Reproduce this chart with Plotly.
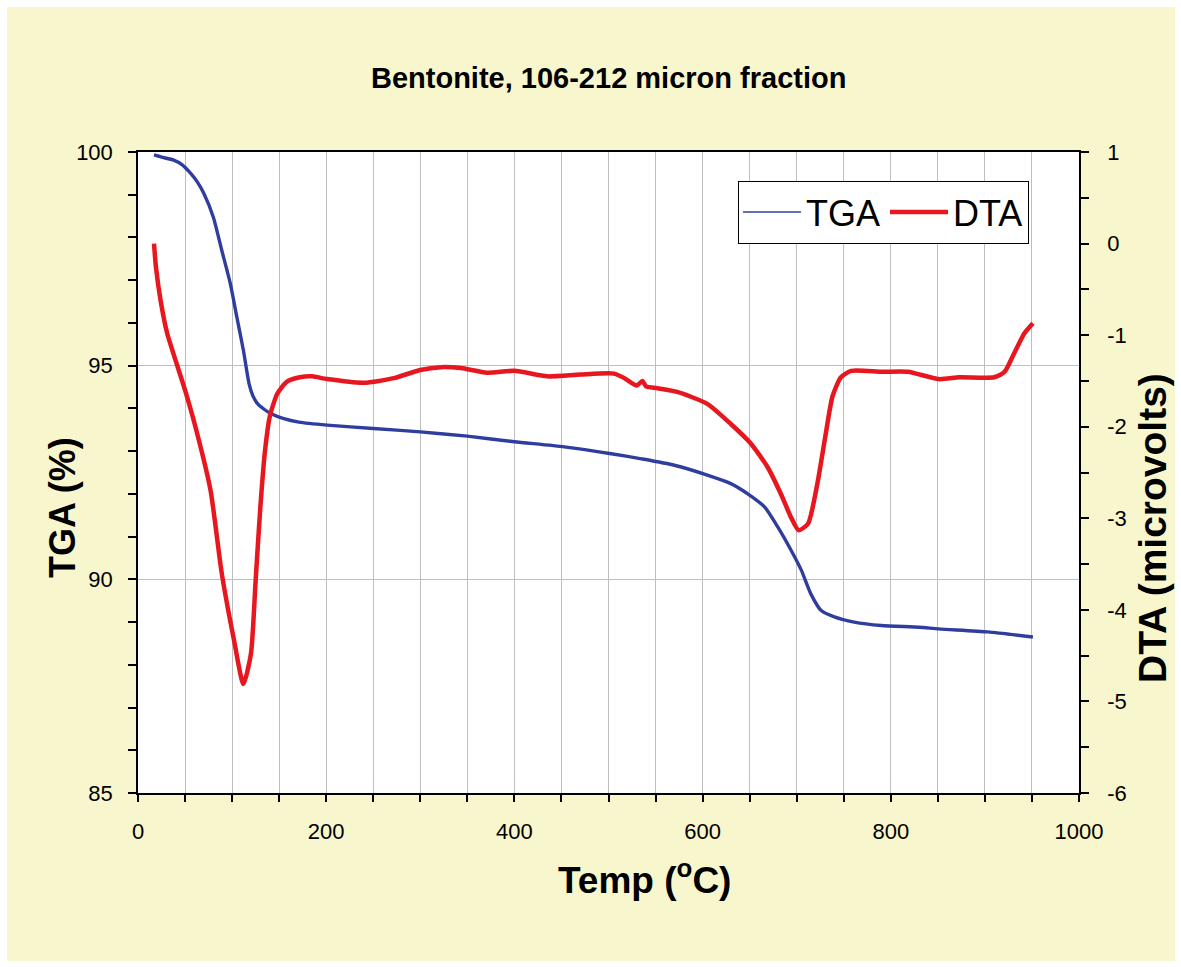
import plotly.graph_objects as go

# Thermogravimetric (TGA, %) readings against temperature (deg C)
tga_temp = [17, 25, 38, 47, 56, 63, 70, 80, 89, 98, 105, 112, 118, 122, 127, 134, 141,
            155, 171, 201, 250, 300, 350, 400, 453, 503, 535, 570, 605, 630, 648, 666,
            680, 694, 705, 715, 726, 740, 761, 790, 830, 851, 903, 951]
tga_pct = [99.93, 99.88, 99.81, 99.70, 99.50, 99.30, 99.03, 98.48, 97.70, 96.93, 96.14,
           95.36, 94.58, 94.30, 94.11, 93.98, 93.88, 93.76, 93.68, 93.61, 93.53, 93.45,
           93.35, 93.22, 93.10, 92.94, 92.82, 92.67, 92.44, 92.24, 92.00, 91.69, 91.22,
           90.68, 90.21, 89.66, 89.27, 89.12, 89.00, 88.92, 88.88, 88.84, 88.77, 88.65]

# Differential thermal analysis (DTA, microvolts) against temperature (deg C)
dta_temp = [17, 19, 24, 31, 41, 50, 61, 77, 89, 102, 112, 120, 125, 130, 135, 140, 148,
            158, 172, 185, 201, 240, 272, 300, 322, 343, 371, 400, 435, 470, 506, 517,
            530, 536, 540, 552, 573, 605, 630, 651, 669, 683, 694, 702, 712, 722, 731,
            738, 747, 758, 790, 818, 851, 873, 910, 921, 931, 942, 951]
dta_uv = [0.00, -0.25, -0.62, -0.98, -1.31, -1.60, -2.00, -2.69, -3.60, -4.33, -4.81,
          -4.48, -3.68, -2.88, -2.26, -1.89, -1.64, -1.51, -1.46, -1.45, -1.48, -1.52,
          -1.47, -1.38, -1.35, -1.36, -1.41, -1.39, -1.45, -1.43, -1.42, -1.47, -1.55,
          -1.50, -1.56, -1.58, -1.62, -1.75, -1.97, -2.18, -2.44, -2.73, -2.99, -3.13,
          -3.06, -2.62, -2.07, -1.67, -1.46, -1.39, -1.40, -1.40, -1.48, -1.46, -1.46,
          -1.40, -1.20, -0.98, -0.87]

# Axis tick labels
x_ticks = [0, 200, 400, 600, 800, 1000]
tga_ticks = [85, 90, 95, 100]
dta_ticks = [-6, -5, -4, -3, -2, -1, 0, 1]
dta_tick_text = [str(v) for v in dta_ticks]

BLUE = "#2F3E9E"
RED = "#E8161E"
BG = "#F8F6CC"
GRID = "#BEBEBE"
FONT = "Liberation Sans, Arial, sans-serif"

fig = go.Figure()

fig.add_trace(go.Scatter(
    x=tga_temp, y=tga_pct, mode="lines", name="TGA", showlegend=False,
    legendgroup="tga", line=dict(color=BLUE, width=3.4, shape="spline", smoothing=0.6),
    yaxis="y"))
fig.add_trace(go.Scatter(
    x=[None], y=[None], mode="lines", name="TGA", legendgroup="tga",
    line=dict(color=BLUE, width=1.5), yaxis="y"))
fig.add_trace(go.Scatter(
    x=dta_temp, y=dta_uv, mode="lines", name="DTA",
    line=dict(color=RED, width=4.5, shape="spline", smoothing=0.6),
    yaxis="y2"))

L, R, T, B = 138, 102, 152, 174
W, H = 1181, 967
pw, ph = W - L - R, H - T - B


def px_x(p):
    return (p - L) / pw


def px_y(p):
    return 1 - (p - T) / ph


fig.update_layout(
    width=W, height=H,
    margin=dict(l=L, r=R, t=T, b=B, pad=0),
    paper_bgcolor="white",
    plot_bgcolor="white",
    font=dict(family=FONT, color="black"),
    showlegend=True,
    legend=dict(
        orientation="h", x=px_x(738), y=px_y(181), xanchor="left", yanchor="top",
        bgcolor="white", bordercolor="black", borderwidth=1.2,
        font=dict(size=36, family=FONT), itemwidth=58, tracegroupgap=0,
    ),
    xaxis=dict(
        range=[0, 1000], tickvals=x_ticks, ticks="outside", ticklen=7, tickwidth=1.5,
        tickcolor="black", showline=True, linecolor="black", linewidth=1.5, mirror=True,
        showgrid=True, gridcolor=GRID, gridwidth=1, zeroline=False,
        tickfont=dict(size=22), ticklabelstandoff=11,
        minor=dict(dtick=50, ticks="outside", ticklen=7, tickwidth=1.5, tickcolor="black",
                   showgrid=True, gridcolor=GRID, gridwidth=1),
    ),
    yaxis=dict(
        range=[85, 100], tickvals=tga_ticks, ticks="outside", ticklen=8, tickwidth=1.5,
        tickcolor="black", showline=True, linecolor="black", linewidth=1.5,
        showgrid=True, gridcolor=GRID, gridwidth=1, zeroline=False,
        tickfont=dict(size=22), ticklabelstandoff=11,
        minor=dict(dtick=1, ticks="outside", ticklen=8, tickwidth=1.5, tickcolor="black",
                   showgrid=False),
    ),
    yaxis2=dict(
        range=[-6, 1], tickvals=dta_ticks, ticktext=dta_tick_text, overlaying="y",
        side="right", ticks="outside", ticklen=8, tickwidth=1.5, tickcolor="black",
        showline=True, linecolor="black", linewidth=1.5, showgrid=False, zeroline=False,
        tickfont=dict(size=22), ticklabelstandoff=14,
        minor=dict(dtick=0.5, ticks="outside", ticklen=8, tickwidth=1.5,
                   tickcolor="black", showgrid=False),
    ),
    shapes=[
        dict(type="rect", xref="paper", yref="paper", layer="below",
             x0=px_x(7), x1=px_x(1175), y0=px_y(961), y1=px_y(7),
             fillcolor=BG, line=dict(width=0)),
        dict(type="rect", xref="paper", yref="paper", layer="below",
             x0=0, x1=1, y0=0, y1=1, fillcolor="white", line=dict(width=0)),
    ],
    annotations=[
        dict(text="<b>Bentonite, 106-212 micron fraction</b>", xref="paper", yref="paper",
             x=px_x(608), y=px_y(78), xanchor="center", yanchor="middle",
             showarrow=False, font=dict(size=29)),
        dict(text="<b>Temp (<sup>o</sup>C)</b>", xref="paper", yref="paper",
             x=px_x(644), y=px_y(877), xanchor="center", yanchor="middle",
             showarrow=False, font=dict(size=37)),
        dict(text="<b>TGA (%)</b>", xref="paper", yref="paper",
             x=px_x(62), y=px_y(508), xanchor="center", yanchor="middle",
             textangle=-90, showarrow=False, font=dict(size=36)),
        dict(text="<b>DTA (microvolts)</b>", xref="paper", yref="paper",
             x=px_x(1152), y=px_y(528), xanchor="center", yanchor="middle",
             textangle=-90, showarrow=False, font=dict(size=39)),
    ],
)

fig.write_html("out.html")
